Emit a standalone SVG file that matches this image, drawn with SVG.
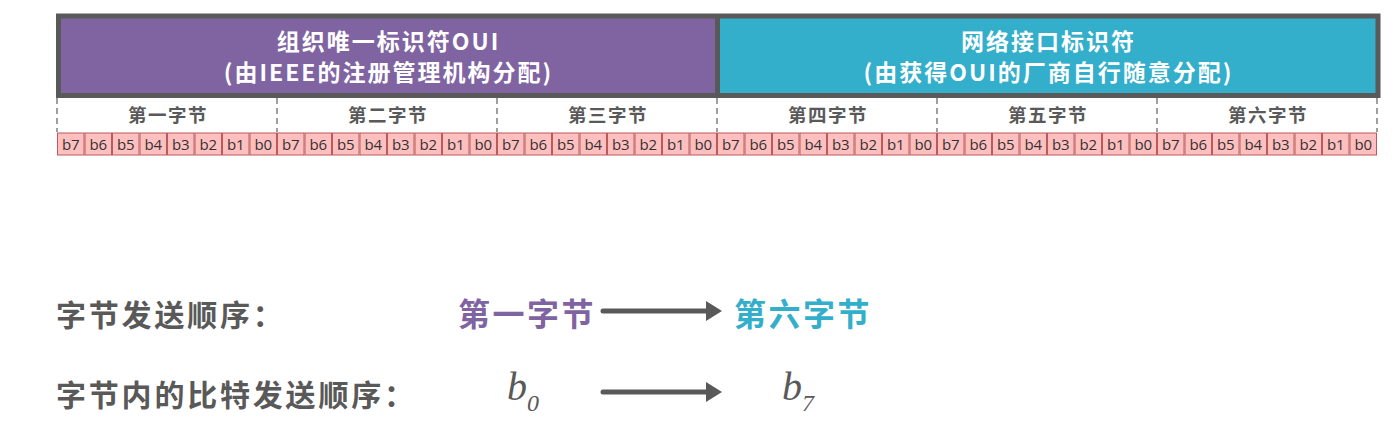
<svg xmlns="http://www.w3.org/2000/svg" width="1399" height="425" viewBox="0 0 1399 425">
<style>
.hdr{font-family:"Noto Sans CJK SC","Noto Sans",sans-serif;font-weight:bold;font-size:23px;letter-spacing:2px;fill:#fff;text-anchor:middle}
.byte{font-family:"Noto Sans CJK SC",sans-serif;font-weight:bold;font-size:18.5px;letter-spacing:1.5px;fill:#595959;text-anchor:middle}
.bit{font-family:"Open Sans","Noto Sans",sans-serif;font-size:15px;fill:#333;text-anchor:middle}
.cell{fill:#FFBFBF;stroke:#B85B5B;stroke-width:1}
.dash{stroke:#808080;stroke-width:1.5;stroke-dasharray:6,4}
.lab{font-family:"Noto Sans CJK SC",sans-serif;font-weight:bold;font-size:30px;letter-spacing:2.8px;fill:#595959}
.big{font-family:"Noto Sans CJK SC",sans-serif;font-weight:bold;font-size:32px;letter-spacing:2.5px}
.math{font-family:"Liberation Serif",serif;font-style:italic;fill:#595959}
.arr{stroke:#595959;stroke-width:5;stroke-linecap:round;fill:none}
</style>
<defs>
<marker id="ah" markerWidth="4" markerHeight="4" refX="1" refY="2" orient="auto" markerUnits="strokeWidth">
<path d="M0,0 L3.2,2 L0,4 Z" fill="#595959"/>
</marker>
</defs>
<rect width="1399" height="425" fill="#fff"/>
<g id="oui">
<rect x="58.5" y="16" width="659" height="79.5" fill="#8064A2"/>
<text class="hdr" x="388.5" y="50">组织唯一标识符OUI</text>
<text class="hdr" x="388.5" y="81">(由IEEE的注册管理机构分配)</text>
</g>
<g id="nic">
<rect x="717.5" y="16" width="660.5" height="79.5" fill="#33AECB"/>
<text class="hdr" x="1048.5" y="50">网络接口标识符</text>
<text class="hdr" x="1048.5" y="81">(由获得OUI的厂商自行随意分配)</text>
</g>
<g id="frame" fill="none" stroke="#595959" stroke-width="5">
<rect x="58.5" y="16" width="1319.5" height="79.5"/>
<line x1="717.5" y1="16" x2="717.5" y2="95.5"/>
</g>
<g id="bytes">
<line class="dash" x1="57" y1="98" x2="57" y2="132"/>
<line class="dash" x1="277" y1="98" x2="277" y2="132"/>
<line class="dash" x1="497" y1="98" x2="497" y2="132"/>
<line class="dash" x1="717" y1="98" x2="717" y2="132"/>
<line class="dash" x1="937" y1="98" x2="937" y2="132"/>
<line class="dash" x1="1157" y1="98" x2="1157" y2="132"/>
<line class="dash" x1="1377" y1="98" x2="1377" y2="132"/>
<text class="byte" x="168" y="122">第一字节</text>
<text class="byte" x="388" y="122">第二字节</text>
<text class="byte" x="608" y="122">第三字节</text>
<text class="byte" x="828" y="122">第四字节</text>
<text class="byte" x="1048" y="122">第五字节</text>
<text class="byte" x="1268" y="122">第六字节</text>
</g>
<g id="bits">
<rect class="cell" x="57.5" y="133" width="26.5" height="22"/><text class="bit" x="70.8" y="149.5">b7</text>
<rect class="cell" x="85" y="133" width="26.5" height="22"/><text class="bit" x="98.3" y="149.5">b6</text>
<rect class="cell" x="112.5" y="133" width="26.5" height="22"/><text class="bit" x="125.8" y="149.5">b5</text>
<rect class="cell" x="140" y="133" width="26.5" height="22"/><text class="bit" x="153.3" y="149.5">b4</text>
<rect class="cell" x="167.5" y="133" width="26.5" height="22"/><text class="bit" x="180.8" y="149.5">b3</text>
<rect class="cell" x="195" y="133" width="26.5" height="22"/><text class="bit" x="208.3" y="149.5">b2</text>
<rect class="cell" x="222.5" y="133" width="26.5" height="22"/><text class="bit" x="235.8" y="149.5">b1</text>
<rect class="cell" x="250" y="133" width="26.5" height="22"/><text class="bit" x="263.3" y="149.5">b0</text>
<rect class="cell" x="277.5" y="133" width="26.5" height="22"/><text class="bit" x="290.8" y="149.5">b7</text>
<rect class="cell" x="305" y="133" width="26.5" height="22"/><text class="bit" x="318.3" y="149.5">b6</text>
<rect class="cell" x="332.5" y="133" width="26.5" height="22"/><text class="bit" x="345.8" y="149.5">b5</text>
<rect class="cell" x="360" y="133" width="26.5" height="22"/><text class="bit" x="373.3" y="149.5">b4</text>
<rect class="cell" x="387.5" y="133" width="26.5" height="22"/><text class="bit" x="400.8" y="149.5">b3</text>
<rect class="cell" x="415" y="133" width="26.5" height="22"/><text class="bit" x="428.3" y="149.5">b2</text>
<rect class="cell" x="442.5" y="133" width="26.5" height="22"/><text class="bit" x="455.8" y="149.5">b1</text>
<rect class="cell" x="470" y="133" width="26.5" height="22"/><text class="bit" x="483.3" y="149.5">b0</text>
<rect class="cell" x="497.5" y="133" width="26.5" height="22"/><text class="bit" x="510.8" y="149.5">b7</text>
<rect class="cell" x="525" y="133" width="26.5" height="22"/><text class="bit" x="538.3" y="149.5">b6</text>
<rect class="cell" x="552.5" y="133" width="26.5" height="22"/><text class="bit" x="565.8" y="149.5">b5</text>
<rect class="cell" x="580" y="133" width="26.5" height="22"/><text class="bit" x="593.3" y="149.5">b4</text>
<rect class="cell" x="607.5" y="133" width="26.5" height="22"/><text class="bit" x="620.8" y="149.5">b3</text>
<rect class="cell" x="635" y="133" width="26.5" height="22"/><text class="bit" x="648.3" y="149.5">b2</text>
<rect class="cell" x="662.5" y="133" width="26.5" height="22"/><text class="bit" x="675.8" y="149.5">b1</text>
<rect class="cell" x="690" y="133" width="26.5" height="22"/><text class="bit" x="703.3" y="149.5">b0</text>
<rect class="cell" x="717.5" y="133" width="26.5" height="22"/><text class="bit" x="730.8" y="149.5">b7</text>
<rect class="cell" x="745" y="133" width="26.5" height="22"/><text class="bit" x="758.3" y="149.5">b6</text>
<rect class="cell" x="772.5" y="133" width="26.5" height="22"/><text class="bit" x="785.8" y="149.5">b5</text>
<rect class="cell" x="800" y="133" width="26.5" height="22"/><text class="bit" x="813.3" y="149.5">b4</text>
<rect class="cell" x="827.5" y="133" width="26.5" height="22"/><text class="bit" x="840.8" y="149.5">b3</text>
<rect class="cell" x="855" y="133" width="26.5" height="22"/><text class="bit" x="868.3" y="149.5">b2</text>
<rect class="cell" x="882.5" y="133" width="26.5" height="22"/><text class="bit" x="895.8" y="149.5">b1</text>
<rect class="cell" x="910" y="133" width="26.5" height="22"/><text class="bit" x="923.3" y="149.5">b0</text>
<rect class="cell" x="937.5" y="133" width="26.5" height="22"/><text class="bit" x="950.8" y="149.5">b7</text>
<rect class="cell" x="965" y="133" width="26.5" height="22"/><text class="bit" x="978.3" y="149.5">b6</text>
<rect class="cell" x="992.5" y="133" width="26.5" height="22"/><text class="bit" x="1005.8" y="149.5">b5</text>
<rect class="cell" x="1020" y="133" width="26.5" height="22"/><text class="bit" x="1033.3" y="149.5">b4</text>
<rect class="cell" x="1047.5" y="133" width="26.5" height="22"/><text class="bit" x="1060.8" y="149.5">b3</text>
<rect class="cell" x="1075" y="133" width="26.5" height="22"/><text class="bit" x="1088.3" y="149.5">b2</text>
<rect class="cell" x="1102.5" y="133" width="26.5" height="22"/><text class="bit" x="1115.8" y="149.5">b1</text>
<rect class="cell" x="1130" y="133" width="26.5" height="22"/><text class="bit" x="1143.3" y="149.5">b0</text>
<rect class="cell" x="1157.5" y="133" width="26.5" height="22"/><text class="bit" x="1170.8" y="149.5">b7</text>
<rect class="cell" x="1185" y="133" width="26.5" height="22"/><text class="bit" x="1198.3" y="149.5">b6</text>
<rect class="cell" x="1212.5" y="133" width="26.5" height="22"/><text class="bit" x="1225.8" y="149.5">b5</text>
<rect class="cell" x="1240" y="133" width="26.5" height="22"/><text class="bit" x="1253.3" y="149.5">b4</text>
<rect class="cell" x="1267.5" y="133" width="26.5" height="22"/><text class="bit" x="1280.8" y="149.5">b3</text>
<rect class="cell" x="1295" y="133" width="26.5" height="22"/><text class="bit" x="1308.3" y="149.5">b2</text>
<rect class="cell" x="1322.5" y="133" width="26.5" height="22"/><text class="bit" x="1335.8" y="149.5">b1</text>
<rect class="cell" x="1350" y="133" width="26.5" height="22"/><text class="bit" x="1363.3" y="149.5">b0</text>
</g>
<g id="byte-order">
<text class="lab" x="56" y="326">字节发送顺序：</text>
<text class="big" x="458" y="326" fill="#8064A2">第一字节</text>
<text class="big" x="734" y="326" fill="#33AECB">第六字节</text>
</g>
<g id="bit-order">
<text class="lab" x="56" y="406">字节内的比特发送顺序：</text>
<text class="math" x="507" y="400" font-size="40">b<tspan font-size="24" dy="11">0</tspan></text>
<text class="math" x="782" y="400" font-size="40">b<tspan font-size="24" dy="11">7</tspan></text>
</g>
<g id="connectors">
<line class="arr" x1="603" y1="311" x2="711" y2="311" marker-end="url(#ah)"/>
<line class="arr" x1="603" y1="392" x2="711" y2="392" marker-end="url(#ah)"/>
</g>
</svg>
